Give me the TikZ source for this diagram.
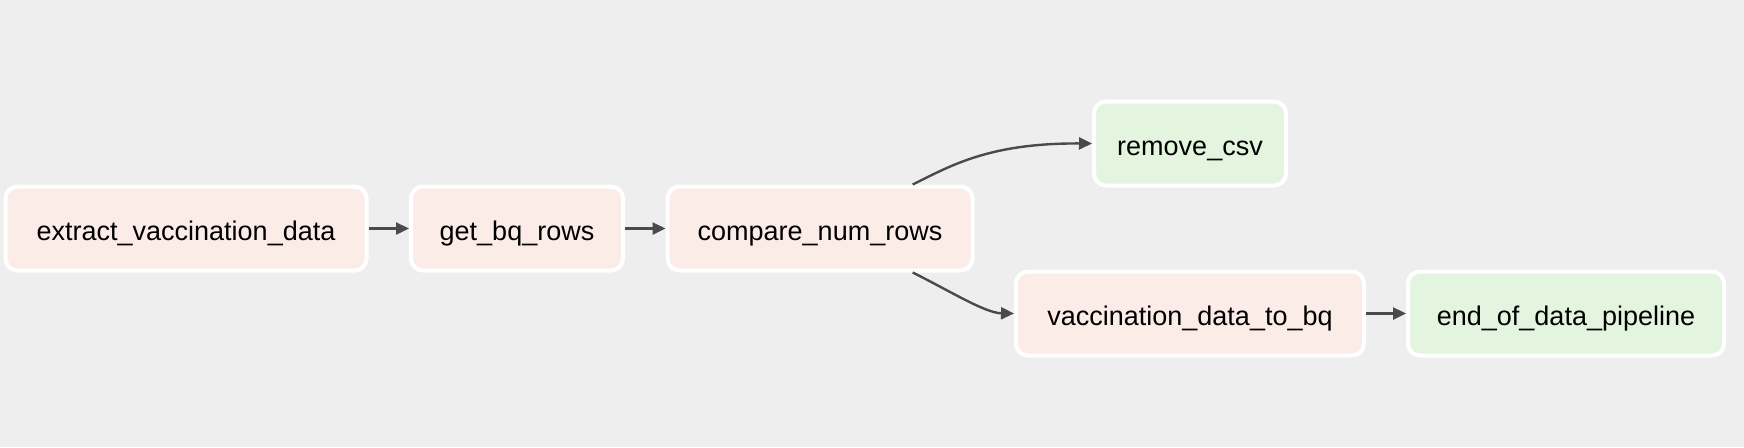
\documentclass[tikz,border=0pt]{standalone}
\usepackage{fontspec}
\setmainfont{Liberation Sans}
\usetikzlibrary{arrows.meta,positioning,calc}

\definecolor{bggray}{HTML}{EEEEEE}
\definecolor{pyfill}{HTML}{FCECE8}
\definecolor{dumfill}{HTML}{E3F5DF}
\definecolor{edgegray}{HTML}{4A4A4A}

\begin{document}
\begin{tikzpicture}
[ x=0.5pt, y=-0.5pt,
  task/.style={ draw=white, line width=2pt, rounded corners=6pt,
    minimum height=42pt, inner sep=0pt,
    text height=12.4pt, text depth=0pt,
    font=\fontsize{13.5}{16}\selectfont
    },
  pytask/.style={ task, fill=pyfill },
  dumtask/.style={ task, fill=dumfill },
  flow/.style={ draw=edgegray, line width=1.2pt,
    -{Triangle[length=6.5pt,width=6pt]}
    }
]
%\draw[help lines] (0,0) grid (1744,447);
\fill[bggray] (0,0) rectangle (1744,447);

\node[pytask, minimum width=180.5pt] (extract)   at (186,228.5)  {extract\_vaccination\_data};
\node[pytask, minimum width=106pt]   (getrows)   at (517,228.5)  {get\_bq\_rows};
\node[pytask, minimum width=152.5pt] (compare)   at (820,228.5)  {compare\_num\_rows};
\node[dumtask, minimum width=96pt]   (removecsv) at (1190,143.5) {remove\_csv};
\node[pytask, minimum width=174pt]   (tobq)      at (1190,313.5) {vaccination\_data\_to\_bq};
\node[dumtask, minimum width=158pt]  (endpipe)   at (1566,313.5) {end\_of\_data\_pipeline};

\foreach \a/\b in {extract/getrows, getrows/compare, tobq/endpipe}{
    \draw[flow] (\a) -- (\b);
  }

\draw[flow] ($(compare.north)!0.6!(compare.north east)$)
    .. controls (952,165) and (990,143) .. (removecsv.west);
\draw[flow] ($(compare.south)!0.6!(compare.south east)$)
    .. controls (950,291) and (985,313) .. (tobq.west);
\end{tikzpicture}
\end{document}
